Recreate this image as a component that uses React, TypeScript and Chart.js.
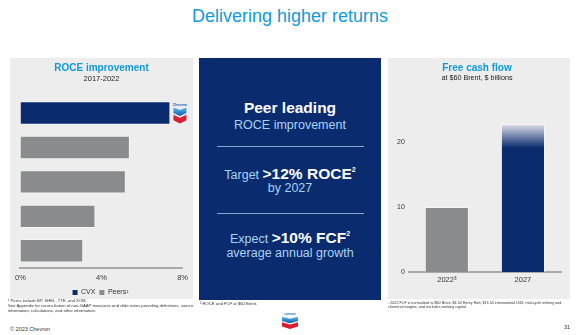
import React, { useEffect, useRef } from 'react';
import { Chart, registerables } from 'chart.js';

Chart.register(...registerables);

const NAVY = '#0b2b6f';
const GRAY = '#8a8b8e';
const LIGHT_BLUE = '#0f9bd7';
const PANEL = '#ededed';
const FONT = "'Liberation Sans', Arial, sans-serif";

// ROCE improvement 2017-2022 (percentage points)
const roceLabels = ['CVX', 'Peer 1', 'Peer 2', 'Peer 3', 'Peer 4'];
const roceCvx = [7.4, null, null, null, null];
const rocePeers = [null, 5.4, 5.2, 3.7, 3.1];
const roceTicks = [0, 4, 8];

// Free cash flow at $60 Brent, $ billions
const fcfLabels = ['2022³', '2027'];
const fcfValues = [10.0, 22.8];
const fcfTicks = [0, 10, 20];

Chart.defaults.font.family = FONT;

function drawLogo(ctx: CanvasRenderingContext2D, x: number, top: number, w: number, h: number) {
  ctx.save();
  const P = (px: number, py: number) => [x + px * w, top + py * h];
  const poly = (pts: number[][], fill: any) => {
    ctx.beginPath();
    pts.forEach(([px, py], i) => {
      const [a, b] = P(px, py);
      if (i === 0) ctx.moveTo(a, b);
      else ctx.lineTo(a, b);
    });
    ctx.closePath();
    ctx.fillStyle = fill;
    ctx.fill();
  };
  ctx.fillStyle = '#1d5fae';
  ctx.font = `bold ${Math.max(3, h * 0.17)}px ${FONT}`;
  ctx.textAlign = 'center';
  ctx.textBaseline = 'middle';
  ctx.fillText('Chevron', x + w / 2, top + h * 0.1);
  const g = ctx.createLinearGradient(0, top + h * 0.24, 0, top + h * 0.66);
  g.addColorStop(0, '#5bbcec');
  g.addColorStop(1, '#0a56a5');
  poly([[0, 0.24], [0.5, 0.36], [1, 0.24], [1, 0.5], [0.5, 0.64], [0, 0.5]], g);
  poly([[0, 0.58], [0.5, 0.72], [1, 0.58], [1, 0.84], [0.5, 1.0], [0, 0.84]], '#d91f36');
  ctx.restore();
}

function LogoSvg({ left, top, w, h }: { left: number; top: number; w: number; h: number }) {
  return (
    <svg width={w} height={h} viewBox="0 0 100 100" preserveAspectRatio="none" style={{ position: 'absolute', left, top }}>
      <defs>
        <linearGradient id="lg1" x1="0" y1="0" x2="0" y2="1">
          <stop offset="0" stopColor="#5bbcec" />
          <stop offset="1" stopColor="#0a56a5" />
        </linearGradient>
      </defs>
      <text x="50" y="14" fontSize="18" fontWeight="bold" textAnchor="middle" fill="#1d5fae" fontFamily="Liberation Sans">Chevron</text>
      <polygon points="0,24 50,36 100,24 100,50 50,64 0,50" fill="url(#lg1)" />
      <polygon points="0,58 50,72 100,58 100,84 50,100 0,84" fill="#d91f36" />
    </svg>
  );
}

function RoceChart() {
  const ref = useRef<HTMLCanvasElement>(null);
  useEffect(() => {
    const logoPlugin = {
      id: 'cvxLogo',
      afterDatasetsDraw(chart: any) {
        const el = chart.getDatasetMeta(0).data[0];
        if (!el) return;
        const w = 13;
        const h = 21;
        drawLogo(chart.ctx, el.x + 3, el.y - h / 2, w, h);
      },
    };
    const chart = new Chart(ref.current as HTMLCanvasElement, {
      type: 'bar',
      data: {
        labels: roceLabels,
        datasets: [
          {
            label: 'CVX',
            data: roceCvx,
            backgroundColor: NAVY,
            borderColor: 'rgba(255,255,255,0.55)',
            borderWidth: 1,
            grouped: false,
            barPercentage: 0.68,
            categoryPercentage: 1,
          } as any,
          {
            label: 'Peers¹',
            data: rocePeers,
            backgroundColor: GRAY,
            borderColor: 'rgba(255,255,255,0.55)',
            borderWidth: 1,
            grouped: false,
            barPercentage: 0.68,
            categoryPercentage: 1,
          } as any,
        ],
      },
      options: {
        indexAxis: 'y',
        animation: false,
        responsive: false,
        layout: { padding: { left: 10, right: 10, top: 0, bottom: 0 } },
        scales: {
          x: {
            min: 0,
            max: 8,
            afterBuildTicks: (a: any) => {
              a.ticks = roceTicks.map((v) => ({ value: v }));
            },
            ticks: {
              callback: (v: any) => v + '%',
              padding: 5,
              color: '#3a3a3a',
              font: { size: 7.5 },
              maxRotation: 0,
            },
            grid: { display: false, drawTicks: false },
            border: { display: true, color: '#a9a9a9', width: 2 },
          },
          y: { display: false },
        },
        plugins: {
          title: {
            display: true,
            text: 'ROCE improvement',
            color: LIGHT_BLUE,
            font: { size: 10, weight: 'bold' },
            padding: { top: 4, bottom: 0 },
          },
          subtitle: {
            display: true,
            text: '2017-2022',
            color: '#222',
            font: { size: 7.5 },
            padding: { top: 0, bottom: 12.8 },
          },
          legend: {
            position: 'bottom',
            labels: {
              boxWidth: 5,
              boxHeight: 5,
              padding: 2,
              color: '#333',
              font: { size: 7 },
              generateLabels: (c: any) =>
                c.data.datasets.map((ds: any, i: number) => ({
                  text: ds.label + ' ',
                  fillStyle: ds.backgroundColor,
                  strokeStyle: ds.backgroundColor,
                  lineWidth: 0,
                  hidden: false,
                  datasetIndex: i,
                  fontColor: '#333',
                })),
            },
          },
          tooltip: { enabled: false },
        },
      } as any,
      plugins: [logoPlugin],
    });
    return () => chart.destroy();
  }, []);
  return (
    <>
      <div style={{ position: 'absolute', left: 10, top: 58, width: 183, height: 241, background: PANEL }} />
      <canvas
        ref={ref}
        width={183}
        height={248}
        style={{ position: 'absolute', left: 10, top: 58, width: 183, height: 248 }}
      />
    </>
  );
}

function FcfChart() {
  const ref = useRef<HTMLCanvasElement>(null);
  useEffect(() => {
    const barColor = (ctx: any) => {
      if (ctx.dataIndex === 0) return GRAY;
      const chart = ctx.chart;
      const ys = chart.scales && chart.scales.y;
      if (!ys || !chart.chartArea) return NAVY;
      const top = ys.getPixelForValue(fcfValues[ctx.dataIndex]);
      const g = chart.ctx.createLinearGradient(0, top, 0, top + 24);
      g.addColorStop(0, '#dfe2ea');
      g.addColorStop(1, NAVY);
      return g;
    };
    const chart = new Chart(ref.current as HTMLCanvasElement, {
      type: 'bar',
      data: {
        labels: fcfLabels,
        datasets: [
          {
            label: 'FCF',
            data: fcfValues,
            backgroundColor: barColor,
            borderColor: 'rgba(255,255,255,0.55)',
            borderWidth: 1,
            barPercentage: 0.58,
            categoryPercentage: 1,
          } as any,
        ],
      },
      options: {
        animation: false,
        responsive: false,
        layout: { padding: { left: 5, right: 9, top: 0, bottom: 11 } },
        scales: {
          x: {
            grid: { display: false, drawTicks: false },
            border: { display: true, color: '#a9a9a9', width: 2 },
            ticks: { padding: 3.5, color: '#333', font: { size: 7.5 }, maxRotation: 0 },
          },
          y: {
            min: 0,
            max: 25,
            afterBuildTicks: (a: any) => {
              a.ticks = fcfTicks.map((v) => ({ value: v }));
            },
            grid: { display: false, drawTicks: false },
            border: { display: false },
            ticks: { padding: 4, color: '#333', font: { size: 7 } },
          },
        },
        plugins: {
          title: {
            display: true,
            text: 'Free cash flow',
            color: LIGHT_BLUE,
            font: { size: 10, weight: 'bold' },
            padding: { top: 4, bottom: 0 },
          },
          subtitle: {
            display: true,
            text: 'at $60 Brent, $ billions',
            color: '#222',
            font: { size: 7.2 },
            padding: { top: 0, bottom: 27 },
          },
          legend: { display: false },
          tooltip: { enabled: false },
        },
      } as any,
    });
    return () => chart.destroy();
  }, []);
  return (
    <canvas
      ref={ref}
      width={182}
      height={241}
      style={{ position: 'absolute', left: 388, top: 58, width: 182, height: 241, background: PANEL }}
    />
  );
}

function Line({ cy, fs, children, color = '#fff', bold = false }: any) {
  return (
    <div
      style={{
        position: 'absolute',
        left: 0,
        width: '100%',
        top: cy - fs * 0.6,
        height: fs * 1.2,
        lineHeight: `${fs * 1.2}px`,
        fontSize: fs,
        textAlign: 'center',
        color,
        fontWeight: bold ? 'bold' : 'normal',
        whiteSpace: 'nowrap',
      }}
    >
      {children}
    </div>
  );
}

function MiddlePanel() {
  const lb = '#a6d4f5';
  const sup = { fontSize: 7, verticalAlign: 'top', lineHeight: '10px', position: 'relative' as const, top: -1 };
  return (
    <div style={{ position: 'absolute', left: 199, top: 58, width: 182, height: 242, background: NAVY }}>
      <Line cy={50} fs={15.5} bold>Peer leading</Line>
      <Line cy={67} fs={12.5} color={lb}>ROCE improvement</Line>
      <div style={{ position: 'absolute', left: 18, width: 147, top: 88, height: 1, background: 'rgba(190,203,228,0.75)' }} />
      <Line cy={115} fs={12.5} color={lb}>
        Target <b style={{ color: '#fff', fontSize: 15.5 }}>&gt;12% ROCE</b>
        <b style={{ ...sup, color: '#fff' }}>2</b>
      </Line>
      <Line cy={130} fs={12.5} color={lb}>by 2027</Line>
      <div style={{ position: 'absolute', left: 18, width: 147, top: 155, height: 1, background: 'rgba(190,203,228,0.75)' }} />
      <Line cy={179} fs={12.5} color={lb}>
        Expect <b style={{ color: '#fff', fontSize: 15.5 }}>&gt;10% FCF</b>
        <b style={{ ...sup, color: '#fff' }}>2</b>
      </Line>
      <Line cy={195} fs={12.5} color={lb}>average annual growth</Line>
    </div>
  );
}

function Note({ left, top, fs, children, color = '#333' }: any) {
  return (
    <div style={{ position: 'absolute', left, top, fontSize: fs, lineHeight: `${fs * 1.15}px`, color, whiteSpace: 'nowrap' }}>
      {children}
    </div>
  );
}

export default function App() {
  return (
    <div
      style={{
        position: 'fixed',
        left: 0,
        top: 0,
        width: 580,
        height: 335,
        background: '#fff',
        overflow: 'hidden',
        fontFamily: FONT,
      }}
    >
      <div
        style={{
          position: 'absolute',
          left: 0,
          width: 580,
          top: 6,
          textAlign: 'center',
          fontSize: 18,
          lineHeight: '20px',
          color: LIGHT_BLUE,
        }}
      >
        Delivering higher returns
      </div>
      <RoceChart />
      <MiddlePanel />
      <FcfChart />
      <Note left={8} top={299} fs={4.2}>
        ¹ Peers include BP, SHEL, TTE, and XOM.
        <br />
        See Appendix for reconciliation of non-GAAP measures and slide notes providing definitions, source
        <br />
        information, calculations, and other information.
      </Note>
      <Note left={200} top={302} fs={4.2}>² ROCE and FCF at $60 Brent.</Note>
      <Note left={388} top={301} fs={3.7}>
        ³ 2022 FCF is normalized to $60 Brent, $4.50 Henry Hub, $13.50 international LNG, mid-cycle refining and
        <br />
        chemical margins, and excludes working capital.
      </Note>
      <Note left={10} top={326} fs={5.5}>© 2023 Chevron</Note>
      <Note left={564} top={324} fs={5.5}>31</Note>
      <LogoSvg left={282} top={313} w={16} h={16} />
    </div>
  );
}
